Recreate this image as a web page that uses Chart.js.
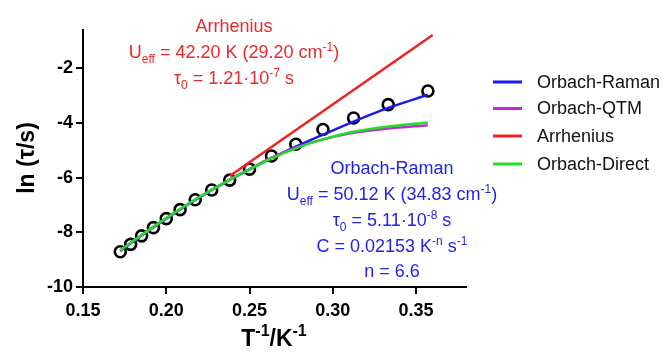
<!DOCTYPE html>
<html>
<head>
<meta charset="utf-8">
<script src="https://cdn.jsdelivr.net/npm/chart.js@4.4.1/dist/chart.umd.min.js"></script>
<style>
  html, body { margin: 0; padding: 0; background: #fff; }
  #wrap { width: 670px; height: 354px; }
</style>
</head>
<body>
<div id="wrap"><canvas id="relax" width="670" height="354"></canvas></div>
<script>
// Measured points: 1/T (K^-1) and ln(tau/s)
const invT = [0.1724, 0.1786, 0.1852, 0.1923, 0.2000, 0.2083, 0.2174, 0.2273,
              0.2381, 0.2500, 0.2632, 0.2778, 0.2941, 0.3125, 0.3333, 0.3571];
const lnTau = [-8.71, -8.44, -8.13, -7.83, -7.50, -7.17, -6.81, -6.45,
               -6.09, -5.69, -5.21, -4.78, -4.24, -3.82, -3.33, -2.83];

// Fitted curves
const fitX = [0.1724, 0.1852, 0.2000, 0.2174, 0.2381, 0.2500, 0.2632, 0.2778, 0.2941, 0.3125, 0.3333, 0.3571];
const ramanFit  = [-8.68, -8.12, -7.50, -6.82, -6.08, -5.70, -5.29, -4.87, -4.43, -3.95, -3.45, -2.97];
const qtmFit    = [-8.66, -8.10, -7.48, -6.80, -6.07, -5.69, -5.27, -4.90, -4.60, -4.36, -4.20, -4.08];
const directFit = [-8.66, -8.10, -7.48, -6.80, -6.08, -5.70, -5.30, -4.93, -4.60, -4.32, -4.13, -3.98];
const arrX = [0.2381, 0.3600];
const arrFit = [-5.94, -0.78];

// Axis ticks
const xTicks = [0.15, 0.20, 0.25, 0.30, 0.35];
const yTicks = [-10, -8, -6, -4, -2];

const FONT = "'Liberation Sans', Arial, Helvetica, sans-serif";
const RED = '#e8282c';
const BLUE = '#2323e6';

const pts = (xs, ys) => xs.map((x, i) => ({ x: x, y: ys[i] }));

function curve(label, xs, ys, color, order) {
  return {
    label: label,
    data: pts(xs, ys),
    showLine: true,
    borderColor: color,
    backgroundColor: color,
    borderWidth: 2.5,
    pointRadius: 0,
    tension: 0.4,
    cubicInterpolationMode: 'monotone',
    order: order
  };
}

// text with sub/superscripts: parts = [[text, 'sub'|'sup'|''], ...]
function richText(ctx, parts, cx, cy, size, color, weight) {
  weight = weight || 'normal';
  const small = Math.round(size * 0.68);
  let total = 0;
  parts.forEach(p => {
    ctx.font = weight + ' ' + (p[1] ? small : size) + 'px ' + FONT;
    total += ctx.measureText(p[0]).width;
  });
  let x = cx - total / 2;
  const base = cy + size * 0.35;
  ctx.fillStyle = color;
  ctx.textAlign = 'left';
  ctx.textBaseline = 'alphabetic';
  parts.forEach(p => {
    ctx.font = weight + ' ' + (p[1] ? small : size) + 'px ' + FONT;
    let y = base;
    if (p[1] === 'sup') y = base - size * 0.42;
    if (p[1] === 'sub') y = base + size * 0.28;
    ctx.fillText(p[0], x, y);
    x += ctx.measureText(p[0]).width;
  });
}

const decorations = {
  id: 'decorations',
  afterDraw(chart) {
    const ctx = chart.ctx;
    ctx.save();

    // Arrhenius parameters
    richText(ctx, [['Arrhenius', '']], 234, 26, 18, RED);
    richText(ctx, [['U', ''], ['eff', 'sub'], [' = 42.20 K (29.20 cm', ''], ['-1', 'sup'], [')', '']], 234, 52, 18, RED);
    richText(ctx, [['\u03c4', ''], ['0', 'sub'], [' = 1.21\u00b710', ''], ['-7', 'sup'], [' s', '']], 234, 78, 18, RED);

    // Orbach-Raman parameters
    richText(ctx, [['Orbach-Raman', '']], 392, 168, 18, BLUE);
    richText(ctx, [['U', ''], ['eff', 'sub'], [' = 50.12 K (34.83 cm', ''], ['-1', 'sup'], [')', '']], 392, 194, 18, BLUE);
    richText(ctx, [['\u03c4', ''], ['0', 'sub'], [' = 5.11\u00b710', ''], ['-8', 'sup'], [' s', '']], 392, 220, 18, BLUE);
    richText(ctx, [['C = 0.02153 K', ''], ['-n', 'sup'], [' s', ''], ['-1', 'sup']], 392, 246, 18, BLUE);
    richText(ctx, [['n = 6.6', '']], 392, 271, 18, BLUE);

    // legend
    const legendY = [82, 108.5, 136, 164];
    const byLabel = {};
    chart.data.datasets.filter(d => d.showLine).forEach(d => { byLabel[d.label] = d; });
    ['Orbach-Raman', 'Orbach-QTM', 'Arrhenius', 'Orbach-Direct'].forEach((name, i) => {
      const d = byLabel[name];
      ctx.strokeStyle = d.borderColor;
      ctx.lineWidth = 3;
      ctx.beginPath();
      ctx.moveTo(493, legendY[i]);
      ctx.lineTo(522, legendY[i]);
      ctx.stroke();
      ctx.fillStyle = '#111';
      ctx.font = '18px ' + FONT;
      ctx.textAlign = 'left';
      ctx.textBaseline = 'middle';
      ctx.fillText(name, 537, legendY[i] + 1);
    });

    // axis titles
    richText(ctx, [['T', ''], ['-1', 'sup'], ['/K', ''], ['-1', 'sup']], 274, 338, 23, '#000', 'bold');
    ctx.translate(26, 158);
    ctx.rotate(-Math.PI / 2);
    richText(ctx, [['ln (\u03c4/s)', '']], 0, 0, 23, '#000', 'bold');
    ctx.restore();
  }
};

const axisStyle = {
  grid: { display: true, drawOnChartArea: false, drawTicks: true, tickLength: 7, color: '#000', lineWidth: 2 },
  border: { display: true, color: '#000', width: 2 },
  ticks: { color: '#000', font: { family: FONT, size: 18, weight: 'bold' } }
};

new Chart(document.getElementById('relax'), {
  type: 'scatter',
  data: {
    datasets: [
      curve('Orbach-Direct', fitX, directFit, '#22dd22', 1),
      curve('Orbach-QTM', fitX, qtmFit, '#c22cd6', 2),
      curve('Orbach-Raman', fitX, ramanFit, '#1a1aee', 3),
      curve('Arrhenius', arrX, arrFit, '#ee2222', 4),
      {
        label: 'data',
        data: pts(invT, lnTau),
        showLine: false,
        pointRadius: 5.5,
        pointBorderWidth: 2.6,
        pointBorderColor: '#000',
        pointBackgroundColor: 'rgba(0,0,0,0)',
        order: 5
      }
    ]
  },
  options: {
    responsive: false,
    animation: false,
    layout: { padding: { left: 0, right: 204, top: 30, bottom: 0 } },
    plugins: { legend: { display: false }, tooltip: { enabled: false } },
    scales: {
      x: {
        type: 'linear',
        min: 0.15,
        max: 0.38,
        grid: axisStyle.grid,
        border: axisStyle.border,
        ticks: Object.assign({}, axisStyle.ticks, {
          padding: 6,
          callback: v => v.toFixed(2)
        }),
        afterBuildTicks: s => { s.ticks = xTicks.map(v => ({ value: v })); },
        afterFit: s => { s.height = 67; }
      },
      y: {
        type: 'linear',
        min: -10,
        max: -0.6,
        grid: axisStyle.grid,
        border: axisStyle.border,
        ticks: Object.assign({}, axisStyle.ticks, { padding: 3 }),
        afterBuildTicks: s => { s.ticks = yTicks.map(v => ({ value: v })); },
        afterFit: s => { s.width = 83; }
      }
    }
  },
  plugins: [decorations]
});
</script>
</body>
</html>
